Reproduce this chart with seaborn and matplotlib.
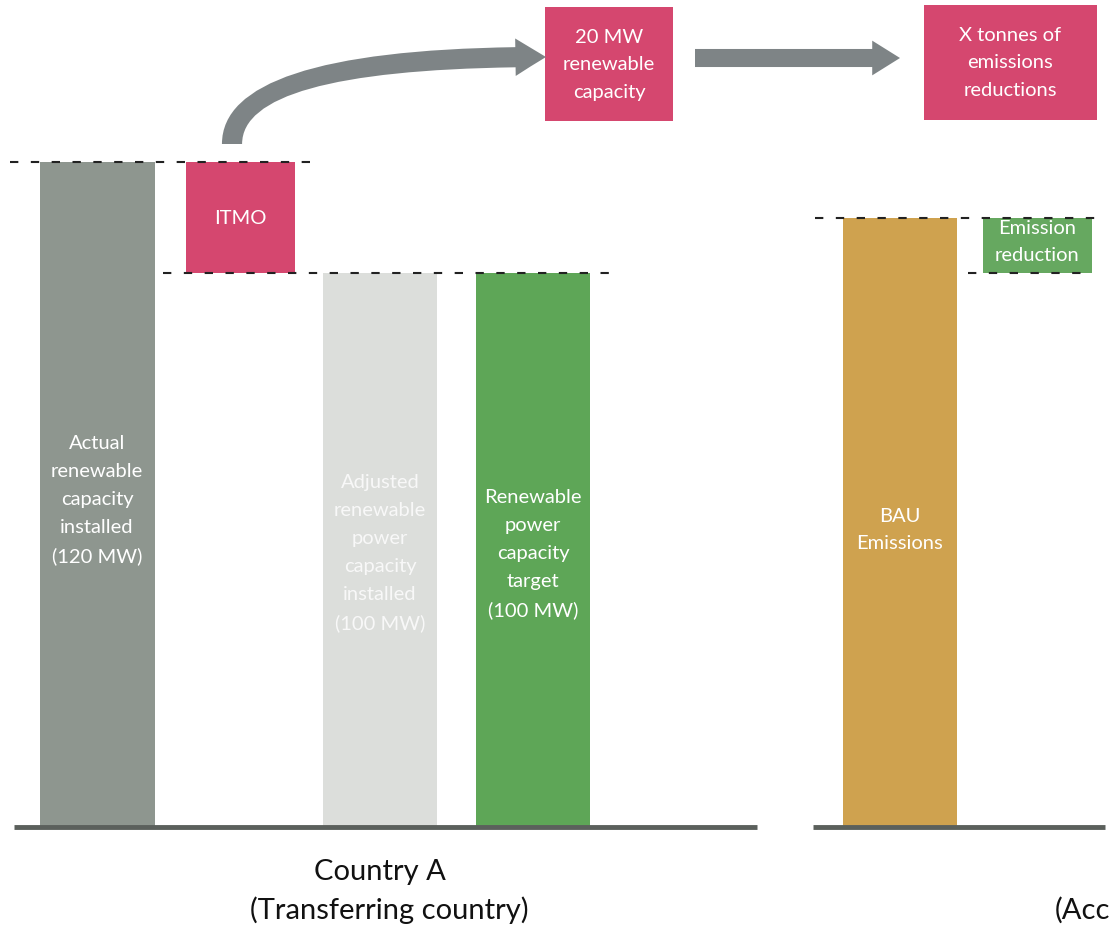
import matplotlib
matplotlib.use("Agg")
import matplotlib.pyplot as plt
from matplotlib.patches import Rectangle, FancyArrowPatch
import pandas as pd
import seaborn as sns

# Grounded bars: Country A in MW, right panel in the same (arbitrary) scale
bar_names = ["Actual", "Adjusted", "Target", "BAU"]
bar_values = [120, 100, 100, 110]
bar_texts = [
    "Actual\nrenewable\ncapacity\ninstalled\n(120 MW)",
    "Adjusted\nrenewable\npower\ncapacity\ninstalled\n(100 MW)",
    "Renewable\npower\ncapacity\ntarget\n(100 MW)",
    "BAU\nEmissions",
]
# Floating bars
itmo_value = 20        # 120 MW installed - 100 MW target
reduction_value = 10   # emission reduction on top of the BAU bar

# Layout (pixel positions on a 1117 x 928 canvas)
bar_pos = [97.5, 380, 533, 900]
bar_colors = ["#8e968f", "#dcdedb", "#5ea657", "#cfa24f"]
pink = "#d5476f"
arrow_gray = "#7e8486"

sns.set_theme(style="white")
plt.rcParams["font.family"] = ["Lato", "DejaVu Sans"]

fig = plt.figure(figsize=(11.17, 9.28), dpi=100)
ax = fig.add_axes([0, 0, 1, 1])

df = pd.DataFrame({"pos": bar_pos, "value": bar_values, "name": bar_names})
sns.barplot(data=df, x="pos", y="value", hue="name",
            palette=dict(zip(bar_names, bar_colors)), native_scale=True,
            width=0.75, dodge=False, legend=False, errorbar=None,
            saturation=1, linewidth=0, ax=ax)

# floating ITMO and emission-reduction bars
ax.bar(240.5, itmo_value, bottom=bar_values[0] - itmo_value, width=109,
       color=pink, linewidth=0)
ax.bar(1037.5, reduction_value, bottom=bar_values[3] - reduction_value,
       width=109, color="#66a860", linewidth=0)

# dashed reference levels
dash = dict(colors="#222222", linestyles=(0, (4, 6)), linewidth=1.5)
ax.hlines(bar_values[0], 10, 318, **dash)
ax.hlines(bar_values[1], 163, 612, **dash)
ax.hlines(bar_values[3], 815, 1100, **dash)
ax.hlines(bar_values[3] - reduction_value, 968, 1092, **dash)

# baselines
ax.hlines(0, 14, 757, colors="#5b605c", linewidth=3.5)
ax.hlines(0, 813, 1105, colors="#5b605c", linewidth=3.5)

ax.set_xlim(0, 1117)
ax.set_ylim(-100 / 5.54, 828 / 5.54)
ax.axis("off")

# overlay in pixel coordinates for labels, boxes and arrows
ov = fig.add_axes([0, 0, 1, 1], facecolor="none")
ov.set_xlim(0, 1117)
ov.set_ylim(928, 0)
ov.axis("off")

txt = dict(ha="center", va="center", fontsize=14.5, linespacing=1.78)
ov.text(97, 500, bar_texts[0], color="white", **txt)
ov.text(380, 553, bar_texts[1], color="#f8f8f8", **txt)
ov.text(533, 554, bar_texts[2], color="white", **txt)
ov.text(900, 530, bar_texts[3], color="white", **txt)
ov.text(240, 218, "ITMO", color="white", **txt)
ov.text(1037, 242, "Emission\nreduction", color="white", **txt)

# pink outcome boxes
ov.add_patch(Rectangle((545, 8), 128, 114, color=pink, lw=0))
ov.add_patch(Rectangle((924, 6), 173, 115, color=pink, lw=0))
ov.text(609, 65, "20 MW\nrenewable\ncapacity", color="white", **txt)
ov.text(1010, 63, "X tonnes of\nemissions\nreductions", color="white", **txt)

# arrows
ov.add_patch(FancyArrowPatch((232, 145), (546, 58),
             connectionstyle="angle3,angleA=90,angleB=0",
             arrowstyle="simple,head_length=2.2,head_width=2.7,tail_width=1.45",
             mutation_scale=10, color=arrow_gray, lw=0, shrinkA=0, shrinkB=0))
ov.add_patch(FancyArrowPatch((695, 59), (900, 59),
             arrowstyle="simple,head_length=2.0,head_width=2.5,tail_width=1.3",
             mutation_scale=10, color=arrow_gray, lw=0, shrinkA=0, shrinkB=0))

# group captions
ov.text(380, 872, "Country A", ha="center", va="center", fontsize=21, color="#111111")
ov.text(389, 910, "(Transferring country)", ha="center", va="center",
        fontsize=21, color="#111111")
ov.text(1055, 910, "(Acc", ha="left", va="center", fontsize=21, color="#111111")

fig.savefig("out.png", dpi=100)
